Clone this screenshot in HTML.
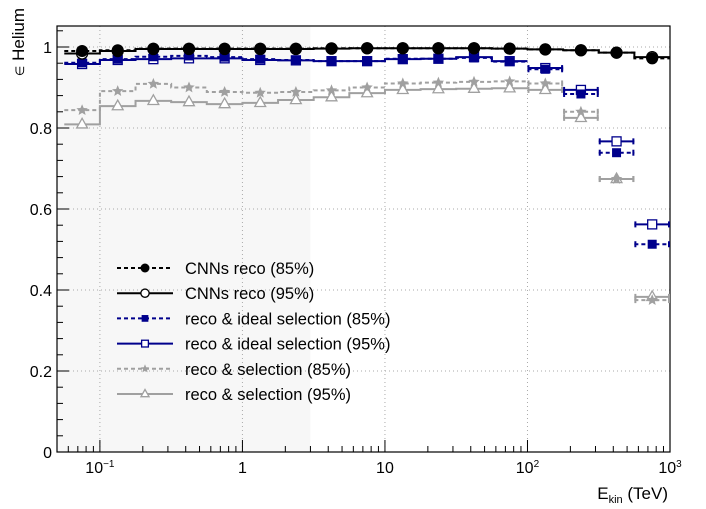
<!DOCTYPE html>
<html><head><meta charset="utf-8"><style>
html,body{margin:0;padding:0;background:#fff;}
svg{display:block;font-family:"Liberation Sans",Arial,sans-serif;}
</style></head><body>
<svg id="chart" width="706" height="509" viewBox="0 0 706 509" xmlns="http://www.w3.org/2000/svg"></svg>
<script>
const binEdgesLog = [-1.25,-1.0,-0.75,-0.5,-0.25,0,0.25,0.5,0.75,1.0,1.25,1.5,1.75,2.0,2.25,2.5,2.75,3.0];
const cnn85 = [0.990,0.992,0.996,0.996,0.996,0.996,0.996,0.997,0.997,0.997,0.997,0.997,0.996,0.994,0.992,0.986,0.972];
const cnn95 = [0.984,0.990,0.995,0.995,0.995,0.995,0.995,0.996,0.997,0.997,0.997,0.997,0.996,0.994,0.992,0.986,0.975];
const ideal85 = [0.961,0.970,0.976,0.978,0.975,0.970,0.968,0.965,0.965,0.971,0.971,0.973,0.964,0.945,0.884,0.739,0.513];
const ideal95 = [0.958,0.968,0.970,0.972,0.972,0.968,0.967,0.965,0.965,0.970,0.971,0.975,0.965,0.948,0.894,0.767,0.562];
const sel85 = [0.844,0.891,0.909,0.900,0.889,0.887,0.889,0.893,0.900,0.910,0.912,0.914,0.915,0.910,0.840,0.674,0.375];
const sel95 = [0.809,0.854,0.867,0.864,0.859,0.862,0.869,0.876,0.886,0.894,0.896,0.897,0.898,0.894,0.825,0.674,0.383];
const yTicks = [0,0.2,0.4,0.6,0.8,1];
const yTickLabels = ["0","0.2","0.4","0.6","0.8","1"];
const xDecades = [-1,0,1,2,3];
const xTickLabels = ["10<tspan dy='-6' font-size='10'>\u22121</tspan>","1","10","10<tspan dy='-6' font-size='10'>2</tspan>","10<tspan dy='-6' font-size='10'>3</tspan>"];

const L=57,R=670,T=26,B=452;
const xMinLog=Math.log10(0.05), xMaxLog=3;
const yMin=0, yMax=(B-T)/405;
function xs(lg){return L+(lg-xMinLog)/(xMaxLog-xMinLog)*(R-L);}
function ys(v){return B-(v-yMin)/(yMax-yMin)*(B-T);}
const svg=document.getElementById('chart');
const NS='http://www.w3.org/2000/svg';
function mk(tag,attrs,parent){const e=document.createElementNS(NS,tag);for(const k in attrs)e.setAttribute(k,attrs[k]);(parent||svg).appendChild(e);return e;}

let sh=mk('rect',{x:L,y:T,width:xs(Math.log10(3))-L,height:B-T,fill:'#f7f7f7'});



const grid=mk('g',{stroke:'#aaa','stroke-width':1,'stroke-dasharray':'1,3'});


yTicks.forEach(v=>{ if(v>0) mk('line',{x1:L,x2:R,y1:ys(v),y2:ys(v)},grid);});
xDecades.forEach(d=>{ if(d<3) mk('line',{x1:xs(d),x2:xs(d),y1:T,y2:B},grid);});

const ax=mk('g',{stroke:'#000','stroke-width':1});


for(let v=0;v<=yMax+1e-9;v+=0.04){
  const major=Math.abs(v/0.2-Math.round(v/0.2))<1e-6;
  mk('line',{x1:L,x2:L+(major?12:6),y1:ys(v),y2:ys(v)},ax);
}
for(let d=-2;d<3;d++){
  for(let m=1;m<10;m++){
    const lg=d+Math.log10(m);
    if(lg<xMinLog-1e-9||lg>3)continue;
    mk('line',{x1:xs(lg),x2:xs(lg),y1:B,y2:B-(m===1?12:6)},ax);
  }
}
mk('rect',{x:L,y:T,width:R-L,height:B-T,fill:'none',stroke:'#000','stroke-width':1.2});

yTicks.forEach((v,i)=>{
  const t=mk('text',{x:L-5,y:ys(v)+6,'text-anchor':'end','font-size':16});
  t.textContent=yTickLabels[i];
  
  
});
xDecades.forEach((d,i)=>{
  const t=mk('text',{x:xs(d),y:B+21,'text-anchor':'middle','font-size':16});
  t.innerHTML=xTickLabels[i];
  
  
});
let xt=mk('text',{x:668,y:499,'text-anchor':'end','font-size':17});
xt.innerHTML="E<tspan dy='4' font-size='11'>kin</tspan><tspan dy='-4'> (TeV)</tspan>";


let yt=mk('text',{x:0,y:0,'text-anchor':'end','font-size':17,transform:'translate(24,8) rotate(-90)'});
yt.innerHTML="<tspan font-size='12'>\u2208</tspan> Helium";



function marker(g,type,cx,cy,color,s){
  s=s||1;
  if(type==='fc')mk('circle',{cx,cy,r:6*s,fill:color},g);
  if(type==='oc')mk('circle',{cx,cy,r:5.5*s,fill:'#fff',stroke:color,'stroke-width':1.3},g);
  if(type==='fs')mk('rect',{x:cx-4.5*s,y:cy-4.5*s,width:9*s,height:9*s,fill:color},g);
  if(type==='os')mk('rect',{x:cx-4.5*s,y:cy-4.5*s,width:9*s,height:9*s,fill:'#fff',stroke:color,'stroke-width':1.3},g);
  if(type==='st'){const r=6*s,pts=[];for(let i=0;i<10;i++){const a=-Math.PI/2+i*Math.PI/5,rr=i%2?r*0.45:r;pts.push((cx+rr*Math.cos(a)).toFixed(1)+','+(cy+rr*Math.sin(a)).toFixed(1));}mk('polygon',{points:pts.join(' '),fill:color},g);}
  if(type==='ot'){const r=6*s;mk('polygon',{points:`${cx},${cy-r} ${cx+r*0.9},${cy+r*0.6} ${cx-r*0.9},${cy+r*0.6}`,fill:'#fff',stroke:color,'stroke-width':1.3},g);}
}

const series=[
 {name:'cnn-reco-85',vals:cnn85,color:'#000',dash:'4,3',m:'fc'},
 {name:'cnn-reco-95',vals:cnn95,color:'#000',dash:'',m:'oc'},
 {name:'ideal-selection-85',vals:ideal85,color:'#00008c',dash:'4,3',m:'fs'},
 {name:'ideal-selection-95',vals:ideal95,color:'#00008c',dash:'',m:'os'},
 {name:'selection-85',vals:sel85,color:'#a0a0a0',dash:'4,3',m:'st'},
 {name:'selection-95',vals:sel95,color:'#a0a0a0',dash:'',m:'ot'},
];
const drawOrder=[5,4,3,2,1,0];
drawOrder.forEach(si=>{
  const s=series[si];
  const g=mk('g',{});
  
  
  const n=s.vals.length;
  const lastConnected = s.m[1]==='c'?n:13;
  let d='';
  for(let i=0;i<Math.min(n,lastConnected);i++){
    const x0=xs(binEdgesLog[i]),x1=xs(binEdgesLog[i+1]),y=ys(s.vals[i]);
    d+=(i===0?'M':'L')+x0+','+y+' L'+x1+','+y+' ';
  }
  mk('path',{d,fill:'none',stroke:s.color,'stroke-width':2,'stroke-dasharray':s.dash},g);
  for(let i=lastConnected;i<n;i++){
    const x0=xs(binEdgesLog[i]),x1=xs(binEdgesLog[i+1]),y=ys(s.vals[i]);
    mk('line',{x1:x0,x2:x1,y1:y,y2:y,stroke:s.color,'stroke-width':2,'stroke-dasharray':s.dash},g);
    mk('line',{x1:x0+1,x2:x0+1,y1:y-3,y2:y+3,stroke:s.color,'stroke-width':2},g);
    mk('line',{x1:x1-1,x2:x1-1,y1:y-3,y2:y+3,stroke:s.color,'stroke-width':2},g);
  }
  for(let i=0;i<n;i++){
    const cx=xs((binEdgesLog[i]+binEdgesLog[i+1])/2),cy=ys(s.vals[i]);
    const pg=mk('g',{},g);
    
    
    marker(pg,s.m,cx,cy,s.color);
  }
});

const legLabels=["CNNs reco (85%)","CNNs reco (95%)","reco & ideal selection (85%)","reco & ideal selection (95%)","reco & selection (85%)","reco & selection (95%)"];
const lg=mk('g',{});


series.forEach((s,i)=>{
  const y=268+i*25.2;
  const e=mk('g',{},lg);
  
  
  mk('line',{x1:117,x2:173,y1:y,y2:y,stroke:s.color,'stroke-width':2,'stroke-dasharray':s.dash},e);
  marker(e,s.m,145,y,s.color,0.75);
  const t=mk('text',{x:185,y:y+6,'font-size':16.5},e);
  t.textContent=legLabels[i];
});
</script>
</body></html>
